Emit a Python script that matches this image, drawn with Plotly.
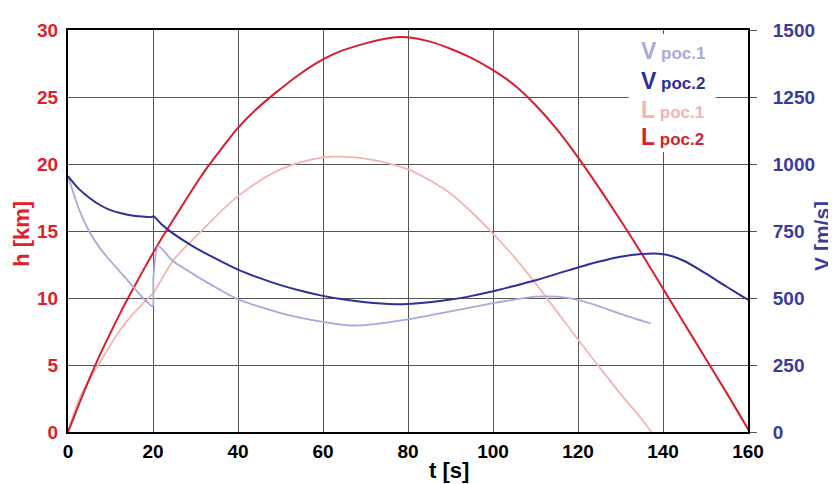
import plotly.graph_objects as go

# ---- data ----
t_L2 = [0, 2.5, 5, 7.5, 10, 12.5, 15, 17.5, 20, 22.5, 25, 30, 32.9, 36, 40, 44, 48.6, 54.5, 60, 64, 70, 77, 80, 85, 90, 95, 100, 105, 110, 115, 120, 125, 130, 135, 140, 145, 150, 155, 160.4]
h_L2 = [0, 2.0, 3.95, 5.75, 7.4, 9.0, 10.5, 11.95, 13.35, 14.7, 15.95, 18.45, 19.8, 21.1, 22.7, 24.0, 25.25, 26.7, 27.8, 28.4, 29.0, 29.45, 29.45, 29.15, 28.6, 27.9, 27.0, 25.9, 24.4, 22.6, 20.5, 18.2, 15.8, 13.3, 10.7, 8.1, 5.5, 2.9, 0]

t_L1 = [0, 2.5, 5, 7.5, 10, 12.5, 15, 17.5, 20, 22.5, 25, 31.4, 40, 50, 60, 64, 70, 80, 85, 90, 95, 100, 105, 110, 115, 120, 125, 130, 135, 137.3]
h_L1 = [0, 2.35, 3.9, 5.2, 6.5, 7.7, 8.7, 9.55, 10.35, 11.65, 12.9, 15.0, 17.6, 19.6, 20.5, 20.55, 20.4, 19.6, 18.8, 17.8, 16.4, 14.8, 13.05, 11.1, 9.0, 6.9, 4.85, 2.85, 0.95, 0]

t_V2 = [0, 2.5, 5, 7.5, 10, 12.5, 15, 17.5, 19.6, 20.1, 22, 24.6, 29.4, 35, 40, 45, 50, 55, 60, 65, 70, 77, 80, 85, 90, 95, 100, 105, 110, 115, 120, 125, 130, 135, 139, 142, 145, 150, 155, 160, 161.2]
V_V2 = [955, 908, 874, 847, 828, 816, 808, 804, 802, 805, 775, 742, 693, 645, 606, 575, 548, 526, 508, 494, 484, 477, 478, 484, 494, 508, 525, 545, 566, 590, 614, 636, 654, 664, 665, 657, 638, 592, 542, 494, 487]

t_V1 = [0, 2.5, 5, 7.5, 10, 12.5, 15, 17.5, 19.7, 20.0, 20.1, 21.2, 24.6, 29.4, 35, 40, 50, 60, 66, 70, 80, 90, 100, 105, 110, 115, 120, 125, 130, 137.1]
V_V1 = [955, 835, 748, 686, 638, 593, 548, 502, 470, 472, 578, 694, 639, 590, 537, 495, 444, 411, 398, 399, 420, 450, 481, 494, 505, 505, 493, 469, 441, 405]

x_ticks = [0, 20, 40, 60, 80, 100, 120, 140, 160]
h_ticks = [0, 5, 10, 15, 20, 25, 30]
V_ticks = [0, 250, 500, 750, 1000, 1250, 1500]

legend_labels = [("V", "poc.1"), ("V", "poc.2"), ("L", "poc.1"), ("L", "poc.2")]

C_V1 = "#a9a9dc"
C_V2 = "#2e2e9c"
C_L1 = "#f2b4b4"
C_L2 = "#d61e2e"
C_RED = "#e0202a"
C_BLUE = "#3b3b9b"
FONT = "Liberation Sans, Arial, sans-serif"

fig = go.Figure()
fig.add_trace(go.Scatter(x=t_L1, y=h_L1, mode="lines", line=dict(color=C_L1, width=1.8, shape="spline", smoothing=1.0), yaxis="y"))
fig.add_trace(go.Scatter(x=t_V1, y=V_V1, mode="lines", line=dict(color=C_V1, width=1.8, shape="spline", smoothing=0.6), yaxis="y2"))
fig.add_trace(go.Scatter(x=t_V2, y=V_V2, mode="lines", line=dict(color=C_V2, width=2, shape="spline", smoothing=1.0), yaxis="y2"))
fig.add_trace(go.Scatter(x=t_L2, y=h_L2, mode="lines", line=dict(color=C_L2, width=2, shape="spline", smoothing=1.0), yaxis="y"))

# legend box (white background hiding grid)
fig.add_shape(type="rect", xref="x", yref="y", x0=131.9, x1=152.4, y0=20.9, y1=29.7,
              fillcolor="white", line=dict(width=0), layer="above")
legend_colors = [C_V1, C_V2, C_L1, C_L2]
legend_y = [28.4, 26.2, 24.05, 22.0]
for (big, small), col, yy in zip(legend_labels, legend_colors, legend_y):
    fig.add_annotation(x=134.4, y=yy, xref="x", yref="y", xanchor="left", yanchor="middle",
                       showarrow=False,
                       text=f"<b><span style='font-size:23px'>{big}</span> <span style='font-size:17px'>{small}</span></b>",
                       font=dict(family=FONT, color=col, size=17))

fig.add_annotation(x=89.6, y=-0.097, xref="x", yref="paper", text="<b>t [s]</b>", showarrow=False,
                   font=dict(family=FONT, size=22, color="black"), xanchor="center", yanchor="middle")
fig.add_annotation(x=-0.0676, y=0.493, xref="paper", yref="paper", text="<b>h [km]</b>", showarrow=False,
                   textangle=-90, font=dict(family=FONT, size=22, color=C_RED), xanchor="center", yanchor="middle")
fig.add_annotation(x=1.109, y=0.488, xref="paper", yref="paper", text="<b>V [m/s]</b>", showarrow=False,
                   textangle=-90, font=dict(family=FONT, size=21, color=C_BLUE), xanchor="center", yanchor="middle")

fig.update_layout(
    width=828, height=476,
    margin=dict(l=60, r=88, t=12, b=52),
    paper_bgcolor="white", plot_bgcolor="white",
    showlegend=False,
    font=dict(family=FONT),
    xaxis=dict(range=[0, 160], tickvals=x_ticks, showgrid=True, gridcolor="#555555", gridwidth=1,
               showline=True, linecolor="black", linewidth=2, mirror=True, zeroline=False,
               tickfont=dict(family=FONT, size=19, color="black", weight="bold"), ticks="", ticklabelstandoff=1),
    yaxis=dict(range=[0, 30], tickvals=h_ticks, showgrid=True, gridcolor="#555555", gridwidth=1,
               showline=True, linecolor="black", linewidth=2, zeroline=False,
               tickfont=dict(family=FONT, size=19, color=C_RED, weight="bold"), ticks="", ticklabelstandoff=4),
    yaxis2=dict(range=[0, 1500], tickvals=V_ticks, overlaying="y", side="right", showgrid=False,
                showline=True, linecolor="black", linewidth=2, zeroline=False,
                ticks="outside", ticklen=7, tickcolor="#555555", tickwidth=1,
                tickfont=dict(family=FONT, size=19, color=C_BLUE, weight="bold"), ticklabelstandoff=12),
)

fig.write_html("out.html")
